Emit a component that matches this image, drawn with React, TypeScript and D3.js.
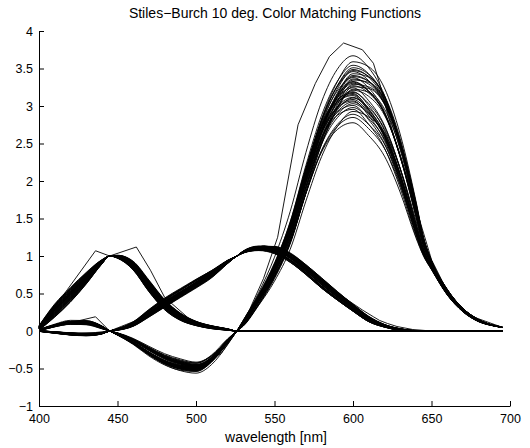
import React, { useEffect, useRef } from "react";
import * as d3 from "d3";

// wavelength grid [nm] (extra points at the primaries 445 / 526 / 645)
const WL = [400, 410, 420, 430, 440, 445, 450, 460, 470, 480, 490, 500, 510, 520, 526, 530, 540, 550, 560, 570, 580, 590, 600, 610, 620, 630, 640, 645, 650, 660, 670, 680, 690, 695];

// mean colour matching functions
const R_MEAN = [0.01, 0.07, 0.11, 0.11, 0.05, 0.0, -0.04, -0.14, -0.27, -0.38, -0.45, -0.48, -0.37, -0.14, 0.0, 0.1, 0.42, 0.8, 1.3, 2.0, 2.62, 3.02, 3.2, 3.08, 2.8, 2.25, 1.5, 1.12, 0.88, 0.52, 0.28, 0.14, 0.07, 0.05];
const G_MEAN = [0.0, -0.02, -0.04, -0.05, -0.03, 0.0, 0.02, 0.09, 0.23, 0.37, 0.5, 0.63, 0.76, 0.92, 1.0, 1.05, 1.1, 1.08, 0.98, 0.82, 0.64, 0.47, 0.31, 0.16, 0.07, 0.02, 0.0, 0.0, -0.005, -0.005, 0.0, 0.0, 0.0, 0.0];
const B_MEAN = [0.04, 0.27, 0.48, 0.7, 0.92, 1.0, 0.99, 0.87, 0.6, 0.35, 0.19, 0.1, 0.05, 0.02, 0.0, 0.0, -0.005, -0.005, -0.005, -0.005, -0.005, 0.0, 0.0, 0.0, 0.0, 0.0, 0.0, 0.0, 0.0, 0.0, 0.0, 0.0, 0.0, 0.0];

// spread between observers at each wavelength (per unit of observer offset)
const R_DEV = [0.01, 0.02, 0.03, 0.03, 0.015, 0.0, -0.01, -0.03, -0.05, -0.07, -0.08, -0.08, -0.07, -0.04, 0.0, 0.02, 0.08, 0.16, 0.26, 0.34, 0.4, 0.45, 0.47, 0.45, 0.38, 0.27, 0.14, 0.06, 0.03, 0.02, 0.01, 0.01, 0.005, 0.005];
const G_DEV = [0.005, 0.01, 0.015, 0.015, 0.01, 0.0, 0.01, 0.03, 0.05, 0.06, 0.06, 0.06, 0.05, 0.02, 0.0, 0.01, 0.03, 0.05, 0.06, 0.06, 0.06, 0.05, 0.04, 0.03, 0.015, 0.01, 0.005, 0.0, 0.0, 0.0, 0.0, 0.0, 0.0, 0.0];
const B_DEV = [0.03, 0.09, 0.1, 0.08, 0.03, 0.0, 0.02, 0.06, 0.08, 0.07, 0.05, 0.03, 0.02, 0.01, 0.0, 0.0, 0.0, 0.0, 0.0, 0.0, 0.0, 0.0, 0.0, 0.0, 0.0, 0.0, 0.0, 0.0, 0.0, 0.0, 0.0, 0.0, 0.0, 0.0];

// second spread component: sideways drift of the flanks (makes curves cross)
const R_SKEW = [0.0, 0.005, 0.01, 0.0, -0.01, 0.0, 0.01, 0.02, 0.03, 0.02, 0.01, -0.01, -0.03, -0.03, 0.0, 0.04, 0.08, 0.12, 0.17, 0.2, 0.18, 0.1, 0.0, -0.1, -0.18, -0.22, -0.18, -0.1, -0.05, -0.03, -0.02, -0.01, 0.0, 0.0];
const G_SKEW = [0.0, 0.0, 0.005, 0.005, 0.0, 0.0, 0.0, 0.01, 0.02, 0.025, 0.02, 0.01, 0.0, -0.01, 0.0, 0.01, 0.01, 0.0, -0.02, -0.03, -0.035, -0.03, -0.025, -0.02, -0.01, -0.005, 0.0, 0.0, 0.0, 0.0, 0.0, 0.0, 0.0, 0.0];

// observer offsets (one entry per observer)
const R_OBS = [0.34, -0.52, 1.0, 0.12, -0.18, 0.61, -0.9, 0.27, 0.05, -0.31, 0.73, -0.07, 0.44, -0.66, 0.19, -0.24, 0.55, -0.41, 0.02, 0.38, -0.13, 0.83, -0.47, 0.22, -0.02, 0.49, -0.36, 0.09, -0.58, 0.31, -0.2, 0.66, -0.1, 0.15, -0.75, 0.41, -0.28, 0.25, 0.58, -0.04];
const R_OBS_SKEW = [-0.6, 0.9, 0.2, -1.0, 0.5, -0.3, 0.7, 0.0, -0.8, 0.4, -0.2, 1.0, -0.5, 0.3, -0.9, 0.6, -0.1, 0.8, -0.4, 0.1, 0.95, -0.7, 0.35, -0.15, 0.65, -0.85, 0.25, 0.5, -0.35, -0.95, 0.15, -0.45, 0.75, -0.25, 0.45, -0.65, 0.85, -0.05, -0.55, 0.3];
const G_OBS = [-0.4, 0.7, 0.1, -0.9, 0.35, -0.2, 0.9, 0.05, -0.6, 0.45, -0.1, 0.8, -0.35, 0.2, -0.75, 0.6, 0.0, -0.5, 0.3, -0.15, 0.55, -0.85, 0.15, 0.4, -0.3, 0.95, -0.05, -0.65, 0.25, 0.5, -0.45, 0.1, 0.75, -0.25, -1.0, 0.65, -0.55, 0.2, -0.1, 0.85];
const G_OBS_SKEW = [0.8, -0.2, -0.7, 0.4, 0.1, -0.9, 0.6, -0.4, 0.3, 1.0, -0.6, -0.1, 0.5, -0.8, 0.2, 0.7, -0.3, 0.9, -0.5, 0.0, -1.0, 0.45, 0.15, -0.65, 0.85, -0.25, 0.55, -0.45, 0.05, -0.85, 0.35, 0.65, -0.15, -0.55, 0.25, 0.95, -0.35, 0.75, -0.75, 0.1];
const B_OBS = [0.6, -0.3, -0.8, 0.25, 0.9, -0.5, 0.1, -0.15, 0.45, -0.95, 0.7, 0.3, -0.6, 0.0, 0.8, -0.4, 0.2, 0.55, -0.7, -0.1, 0.35, -0.25, 1.0, -0.85, 0.15, -0.45, 0.65, 0.05, -0.2, 0.4, -0.65, 0.85, -0.05, 0.5, -0.35, 0.1, -0.9, 0.3, 0.75, -0.55];

// one coarsely sampled observer that stands out from the bundle
const OUT_WL = [400, 418, 436, 445, 462, 471, 480, 498, 516, 526, 534, 543, 552, 565, 576, 585, 594, 606, 613, 617, 622, 628, 638, 650, 662, 675, 695];
const OUT_R = [0.02, 0.1, 0.19, 0.0, -0.17, -0.29, -0.4, -0.52, -0.3, 0.0, 0.28, 0.7, 1.25, 2.75, 3.3, 3.66, 3.84, 3.75, 3.57, 3.3, 2.9, 2.46, 1.79, 0.95, 0.45, 0.2, 0.05];
const OUT_G = [0.0, -0.03, -0.02, 0.0, 0.14, 0.25, 0.36, 0.6, 0.86, 1.0, 1.08, 1.14, 1.1, 0.92, 0.74, 0.58, 0.45, 0.28, 0.19, 0.14, 0.1, 0.06, 0.02, 0.0, 0.0, 0.0, 0.0];
const OUT_B = [0.03, 0.55, 1.07, 1.0, 1.12, 0.81, 0.45, 0.12, 0.03, 0.0, 0.0, 0.0, 0.0, 0.0, 0.0, 0.0, 0.0, 0.0, 0.0, 0.0, 0.0, 0.0, 0.0, 0.0, 0.0, 0.0, 0.0];

const X_TICKS = [400, 450, 500, 550, 600, 650, 700];
const Y_TICKS = [-1, -0.5, 0, 0.5, 1, 1.5, 2, 2.5, 3, 3.5, 4];

const TITLE = "Stiles\u2212Burch 10 deg. Color Matching Functions";
const X_LABEL = "wavelength [nm]";

const W = 530;
const H = 448;
const FONT = "'Liberation Sans', Arial, Helvetica, sans-serif";

const App: React.FC = () => {
  const ref = useRef<SVGSVGElement | null>(null);

  useEffect(() => {
    const svg = d3.select(ref.current);
    svg.selectAll("*").remove();

    const x = d3.scaleLinear().domain([400, 700]).range([39, 510]);
    const y = d3.scaleLinear().domain([-1, 4]).range([406, 31]);

    const line = d3
      .line<[number, number]>()
      .x((d) => x(d[0]))
      .y((d) => y(d[1]))
      .curve(d3.curveMonotoneX);

    const zero = WL.map(() => 0);
    const curves: [number, number][][] = [];
    const addSet = (mean: number[], dev: number[], obs: number[], skew: number[], obsSkew: number[]) => {
      obs.forEach((k, j) => {
        const s = obsSkew[j] ?? 0;
        curves.push(WL.map((w, i) => [w, mean[i] + k * dev[i] + s * skew[i]]));
      });
    };
    addSet(B_MEAN, B_DEV, B_OBS, zero, []);
    addSet(G_MEAN, G_DEV, G_OBS, G_SKEW, G_OBS_SKEW);
    addSet(R_MEAN, R_DEV, R_OBS, R_SKEW, R_OBS_SKEW);

    const plot = svg.append("g");
    plot
      .selectAll("path.obs")
      .data(curves)
      .enter()
      .append("path")
      .attr("class", "obs")
      .attr("d", (d) => line(d) || "")
      .attr("fill", "none")
      .attr("stroke", "#000")
      .attr("stroke-width", 0.9);

    const outLine = d3
      .line<[number, number]>()
      .x((d) => x(d[0]))
      .y((d) => y(d[1]));
    [OUT_R, OUT_G, OUT_B].forEach((vals) => {
      plot
        .append("path")
        .attr("d", outLine(OUT_WL.map((w, i) => [w, vals[i]] as [number, number])) || "")
        .attr("fill", "none")
        .attr("stroke", "#000")
        .attr("stroke-width", 0.9);
    });

    // axes, MATLAB style: ticks pointing in, no box
    const fmt = (v: number) => String(v).replace("-", "\u2212");
    const xAxis = d3
      .axisBottom(x)
      .tickValues(X_TICKS)
      .tickSizeInner(-5)
      .tickSizeOuter(0)
      .tickPadding(8)
      .tickFormat((d) => fmt(d as number));
    const yAxis = d3
      .axisLeft(y)
      .tickValues(Y_TICKS)
      .tickSizeInner(-5)
      .tickSizeOuter(0)
      .tickPadding(6)
      .tickFormat((d) => fmt(d as number));

    const gx = svg.append("g").attr("transform", `translate(0,${y(-1)})`).call(xAxis);
    const gy = svg.append("g").attr("transform", `translate(${x(400)},0)`).call(yAxis);
    [gx, gy].forEach((g) => {
      g.selectAll("text").attr("font-family", FONT).attr("font-size", 12.5).attr("fill", "#000");
      g.selectAll("line").attr("stroke", "#000");
      g.select(".domain").attr("stroke", "#000");
    });

    svg
      .append("text")
      .attr("x", 275)
      .attr("y", 18)
      .attr("text-anchor", "middle")
      .attr("font-family", FONT)
      .attr("font-size", 14)
      .text(TITLE);

    svg
      .append("text")
      .attr("x", 276)
      .attr("y", 442)
      .attr("text-anchor", "middle")
      .attr("font-family", FONT)
      .attr("font-size", 14)
      .text(X_LABEL);
  }, []);

  return (
    <svg
      ref={ref}
      width={W}
      height={H}
      style={{ position: "absolute", left: 0, top: 0, background: "#fff" }}
    />
  );
};

export default App;
